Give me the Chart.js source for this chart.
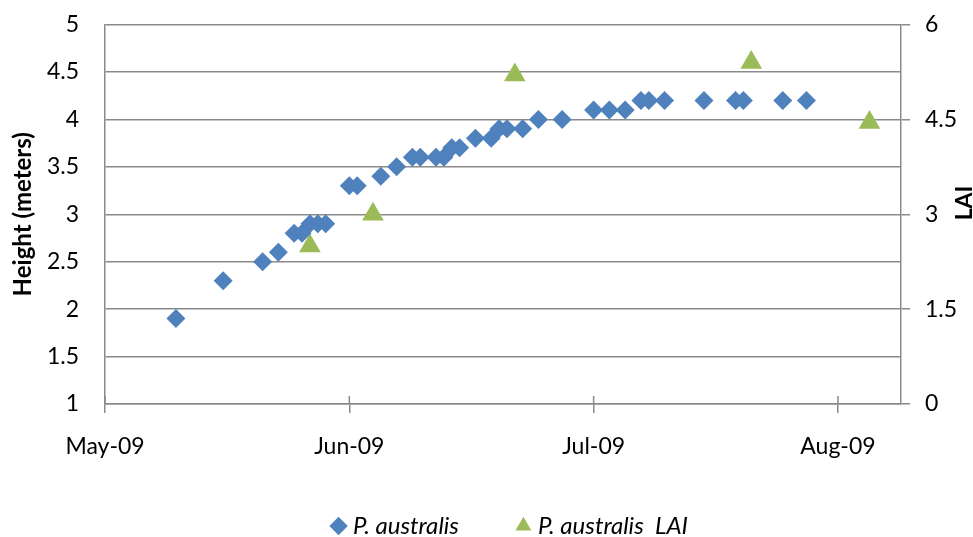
<!DOCTYPE html>
<html>
<head>
<meta charset="utf-8">
<script src="https://cdn.jsdelivr.net/npm/chart.js@4/dist/chart.umd.min.js"></script>
<style>
html,body{margin:0;padding:0;background:#fff;overflow:hidden}
#wrap{width:973px;height:537px;position:relative}
</style>
</head>
<body>
<div id="wrap"><canvas id="c" width="973" height="537"></canvas></div>
<script>
// ---- data ----
const heightDates = [
  '2009-05-10','2009-05-16','2009-05-21','2009-05-23','2009-05-25','2009-05-26',
  '2009-05-27','2009-05-28','2009-05-29','2009-06-01','2009-06-02','2009-06-05',
  '2009-06-07','2009-06-09','2009-06-10','2009-06-12','2009-06-13','2009-06-14',
  '2009-06-15','2009-06-17','2009-06-19','2009-06-20','2009-06-21','2009-06-23',
  '2009-06-25','2009-06-28','2009-07-02','2009-07-04','2009-07-06','2009-07-08',
  '2009-07-09','2009-07-11','2009-07-16','2009-07-20','2009-07-21','2009-07-26',
  '2009-07-29'
];
const heightValues = [
  1.9, 2.3, 2.5, 2.6, 2.8, 2.8,
  2.9, 2.9, 2.9, 3.3, 3.3, 3.4,
  3.5, 3.6, 3.6, 3.6, 3.6, 3.7,
  3.7, 3.8, 3.8, 3.9, 3.9, 3.9,
  4.0, 4.0, 4.1, 4.1, 4.1, 4.2,
  4.2, 4.2, 4.2, 4.2, 4.2, 4.2,
  4.2
];
const laiDates = ['2009-05-27','2009-06-04','2009-06-22','2009-07-22','2009-08-06'];
const laiValues = [2.5, 3.0, 5.2, 5.4, 4.45];

const xTickDates = ['2009-05-01','2009-06-01','2009-07-02','2009-08-02'];
const xTickLabels = ['May-09','Jun-09','Jul-09','Aug-09'];
const xAxisEndDate = '2009-08-10';
const seriesNames = ['P. australis', 'P. australis  LAI'];
const yTitle = 'Height (meters)';
const y2Title = 'LAI';

// ---- helpers ----
const origin = Date.parse(xTickDates[0] + 'T00:00:00Z');
const dayOf = s => Math.round((Date.parse(s + 'T00:00:00Z') - origin) / 86400000);
const xTickDays = xTickDates.map(dayOf);

const FONT = 'Lato, "Open Sans", sans-serif';
const GRID = '#8a8a8a';
const tickFont = {family: FONT, size: 23};
const yTickFont = {family: FONT, size: 23, lineHeight: 0.6};
const LEGEND_SHIFT = 17;

const innerTicks = {
  id: 'innerTicks',
  beforeDatasetsDraw(chart) {
    const s = chart.scales.x, c = chart.ctx, b = chart.chartArea.bottom;
    c.save();
    c.strokeStyle = GRID; c.lineWidth = 1.5;
    s.ticks.forEach(t => {
      const px = s.getPixelForValue(t.value);
      c.beginPath(); c.moveTo(px, b); c.lineTo(px, b - 8); c.stroke();
    });
    c.restore();
  }
};
const legendShift = {
  id: 'legendShift',
  afterLayout(chart) {
    const l = chart.legend;
    l.top -= LEGEND_SHIFT; l.bottom -= LEGEND_SHIFT;
  }
};
const y2TitlePlugin = {
  id: 'y2TitlePlugin',
  afterDraw(chart) {
    const c = chart.ctx;
    c.save();
    c.translate(965, 203);
    c.rotate(-Math.PI / 2);
    c.font = 'bold 23px ' + FONT;
    c.fillStyle = '#000';
    c.textAlign = 'center';
    c.textBaseline = 'middle';
    c.fillText(y2Title, 0, 0);
    c.restore();
  }
};

new Chart(document.getElementById('c'), {
  type: 'scatter',
  data: {
    datasets: [
      {
        label: seriesNames[0],
        data: heightDates.map((d, i) => ({x: dayOf(d), y: heightValues[i]})),
        yAxisID: 'y',
        pointStyle: 'rectRot',
        pointRadius: 9.5, pointHoverRadius: 9.5,
        backgroundColor: '#4F81BD', borderColor: '#4F81BD',
        borderWidth: 0, pointBorderWidth: 0
      },
      {
        label: seriesNames[1],
        data: laiDates.map((d, i) => ({x: dayOf(d), y: laiValues[i]})),
        yAxisID: 'y2',
        pointStyle: 'triangle',
        pointRadius: 12.5, pointHoverRadius: 12.5,
        backgroundColor: '#9BBB59', borderColor: '#9BBB59',
        borderWidth: 0, pointBorderWidth: 0
      }
    ]
  },
  options: {
    responsive: false,
    animation: false,
    events: [],
    layout: {padding: {top: 24.5, left: 0, right: -51, bottom: -28}},
    plugins: {
      legend: {
        position: 'bottom',
        labels: {
          usePointStyle: true, boxWidth: 5, boxHeight: 13, padding: 62,
          color: '#000', font: {family: FONT, size: 24, style: 'italic'}
        }
      },
      tooltip: {enabled: false}
    },
    scales: {
      x: {
        type: 'linear', position: 'bottom',
        min: 0, max: dayOf(xAxisEndDate),
        afterBuildTicks: s => { s.ticks = xTickDays.map(v => ({value: v})); },
        ticks: {
          callback: v => { const i = xTickDays.indexOf(v); return i >= 0 ? xTickLabels[i] : ''; },
          color: '#000', font: tickFont, padding: 20, maxRotation: 0, autoSkip: false
        },
        grid: {drawOnChartArea: false, drawTicks: true, tickLength: 9, color: GRID, lineWidth: 1.5},
        border: {color: GRID, width: 1.5},
        afterFit: s => { s.height = 65; }
      },
      y: {
        position: 'left', min: 1, max: 5,
        ticks: {stepSize: 0.5, padding: 2, color: '#000', font: yTickFont, callback: v => String(v)},
        grid: {color: GRID, lineWidth: 1.5, drawTicks: true, tickLength: 24, tickColor: 'rgba(0,0,0,0)'},
        border: {color: GRID, width: 1.5},
        title: {display: true, text: yTitle, color: '#000',
                font: {family: FONT, size: 24, weight: 'bold'}, padding: {top: 9, bottom: 0}},
        afterFit: s => { s.width = 105; }
      },
      y2: {
        position: 'right', min: 0, max: 6,
        ticks: {stepSize: 1.5, padding: 15, color: '#000', font: yTickFont, callback: v => String(v)},
        grid: {drawOnChartArea: false, drawTicks: true, tickLength: 9, color: GRID, lineWidth: 1.5},
        border: {color: GRID, width: 1.5},
        afterFit: s => { s.width = 123; }
      }
    }
  },
  plugins: [innerTicks, legendShift, y2TitlePlugin]
});
</script>
</body>
</html>
